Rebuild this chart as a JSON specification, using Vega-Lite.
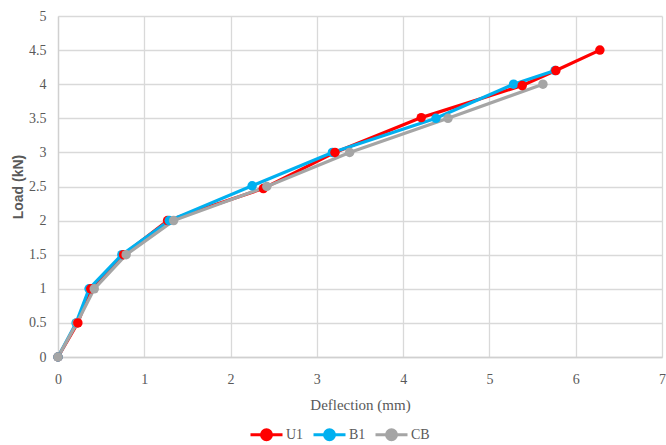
{
  "$schema": "https://vega.github.io/schema/vega-lite/v6.json",
  "autosize": "none",
  "width": 604,
  "height": 341,
  "padding": {"left": 58, "top": 16, "right": 4, "bottom": 88},
  "background": "white",
  "config": {
    "view": {"stroke": null},
    "font": "Liberation Sans Narrow",
    "axis": {"gridColor": "#D9D9D9", "gridWidth": 1.3, "domainColor": "#D0D0D0", "domainWidth": 1.3, "ticks": false, "labelFlush": false, "labelColor": "#595959", "labelFontSize": 14, "titleColor": "#595959", "labelFont": "Liberation Sans Narrow", "titleFont": "Liberation Sans Narrow"}
  },
  "data": {
    "values": [
      {"s": "U1", "d": 0, "l": 0},
      {"s": "U1", "d": 0.23, "l": 0.5},
      {"s": "U1", "d": 0.38, "l": 1.0},
      {"s": "U1", "d": 0.76, "l": 1.5},
      {"s": "U1", "d": 1.27, "l": 2.0},
      {"s": "U1", "d": 2.38, "l": 2.47},
      {"s": "U1", "d": 3.21, "l": 3.0},
      {"s": "U1", "d": 4.21, "l": 3.51},
      {"s": "U1", "d": 5.38, "l": 3.98},
      {"s": "U1", "d": 5.77, "l": 4.2},
      {"s": "U1", "d": 6.28, "l": 4.5},
      {"s": "B1", "d": 0, "l": 0},
      {"s": "B1", "d": 0.21, "l": 0.5},
      {"s": "B1", "d": 0.36, "l": 1.0},
      {"s": "B1", "d": 0.74, "l": 1.5},
      {"s": "B1", "d": 1.29, "l": 2.0},
      {"s": "B1", "d": 2.25, "l": 2.51},
      {"s": "B1", "d": 3.18, "l": 3.0},
      {"s": "B1", "d": 4.38, "l": 3.5},
      {"s": "B1", "d": 5.28, "l": 4.0},
      {"s": "B1", "d": 5.76, "l": 4.2},
      {"s": "CB", "d": 0, "l": 0},
      {"s": "CB", "d": 0.22, "l": 0.5},
      {"s": "CB", "d": 0.42, "l": 1.0},
      {"s": "CB", "d": 0.79, "l": 1.5},
      {"s": "CB", "d": 1.34, "l": 2.0},
      {"s": "CB", "d": 2.42, "l": 2.5},
      {"s": "CB", "d": 3.38, "l": 3.0},
      {"s": "CB", "d": 4.52, "l": 3.5},
      {"s": "CB", "d": 5.62, "l": 4.0}
    ]
  },
  "mark": {"type": "line", "strokeWidth": 3.2, "point": {"filled": true, "size": 90}},
  "encoding": {
    "x": {"field": "d", "type": "quantitative", "scale": {"domain": [0, 7], "nice": false},
      "axis": {"values": [0,1,2,3,4,5,6,7], "format": "d", "title": "Deflection (mm)", "titleFontSize": 15, "titleFontWeight": "normal", "labelPadding": 15, "titlePadding": 11}},
    "y": {"field": "l", "type": "quantitative", "scale": {"domain": [0, 5], "nice": false},
      "axis": {"values": [0,0.5,1,1.5,2,2.5,3,3.5,4,4.5,5], "format": "~g", "title": "Load (kN)", "titleFontSize": 14, "titleFontWeight": "bold", "titleFont": "Liberation Sans", "labelPadding": 12, "titlePadding": 3}},
    "color": {"field": "s", "type": "nominal",
      "scale": {"domain": ["U1", "B1", "CB"], "range": ["#FF0000", "#00B0F0", "#A5A5A5"]},
      "legend": {"title": null, "orient": "none", "direction": "horizontal", "legendX": 197, "legendY": 407,
        "symbolType": "M-1.6,0L1.6,0M0.5,0A0.5,0.5 0 1,1 -0.5,0A0.5,0.5 0 1,1 0.5,0", "symbolSize": 400, "symbolStrokeWidth": 3, "symbolFillColor": null,
        "labelFontSize": 14, "labelColor": "#595959", "columnPadding": 3, "labelOffset": 8, "padding": 0}},
    "order": {"field": "d", "type": "quantitative"}
  }
}
